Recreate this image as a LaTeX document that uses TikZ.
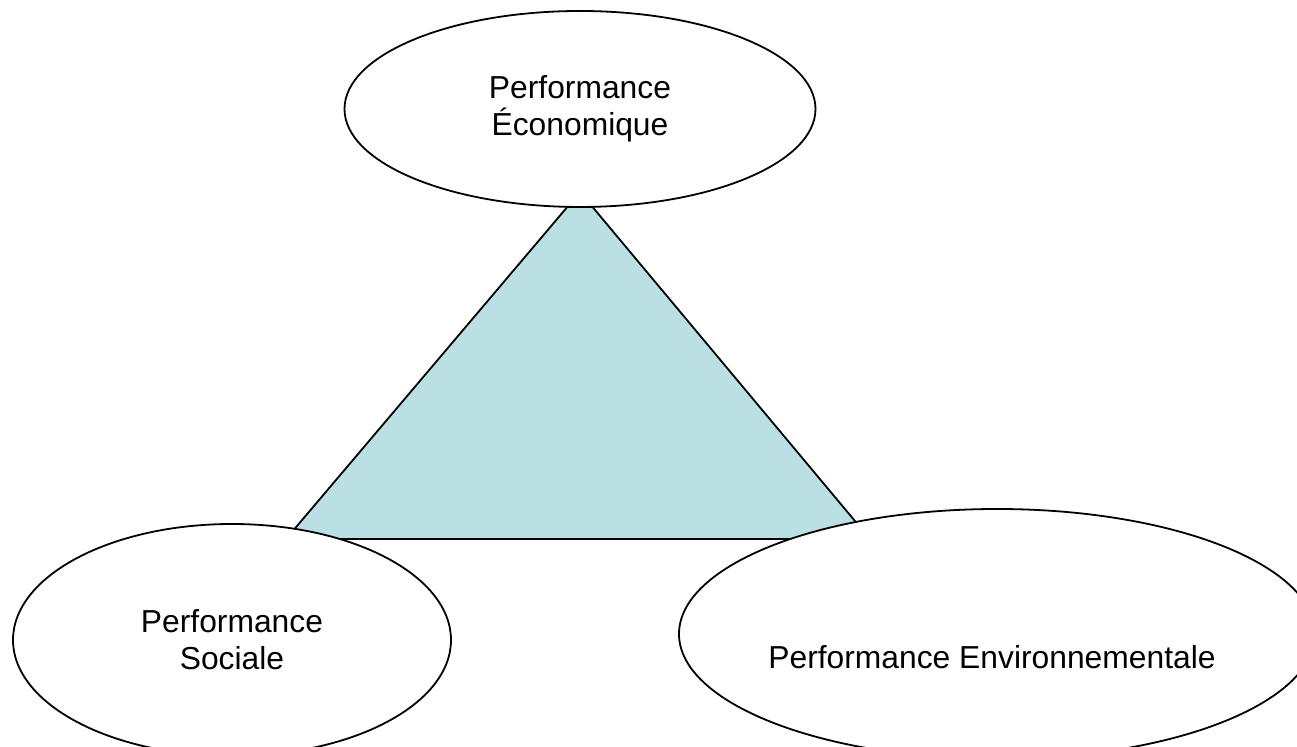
\documentclass[tikz,border=0pt]{standalone}
\usepackage{fontspec}
\setmainfont{Liberation Sans}
\usetikzlibrary{
        shapes.geometric,
        positioning
    }
\definecolor{triteal}{RGB}{187,224,227}
\tikzset{perf/.style={ellipse,draw,fill=white,line width=0.9pt,inner sep=0pt,align=center,font=\fontsize{15.9}{18.5}\selectfont}}
\tikzset{tri/.style={fill=triteal,draw,line width=0.9pt,line join=miter}}

\begin{document}
\begin{tikzpicture}[x=0.5pt,y=-0.5pt]
                \useasboundingbox (0,0) rectangle (1297,747);
                \clip (0,0) rectangle (1297,747);
                \coordinate (apex) at (580,192);
                \coordinate (bl) at (286,539);
                \coordinate (br) at (870,539);
                \path[tri] (apex) -- (bl) -- (br) -- cycle;
                \node[perf,minimum width=235.5pt,minimum height=98pt] (eco) at (580,109) {Performance\\Économique};
                \node[perf,minimum width=219pt,minimum height=116pt] (soc) at (232,640) {Performance\\Sociale};
                \node[perf,minimum width=318pt,minimum height=125pt] (env) at (997,634) {};
                \node[font=\fontsize{15.9}{18.5}\selectfont,inner sep=0pt] (envtxt) at (992,657) {Performance Environnementale};
            \end{tikzpicture}
\end{document}
